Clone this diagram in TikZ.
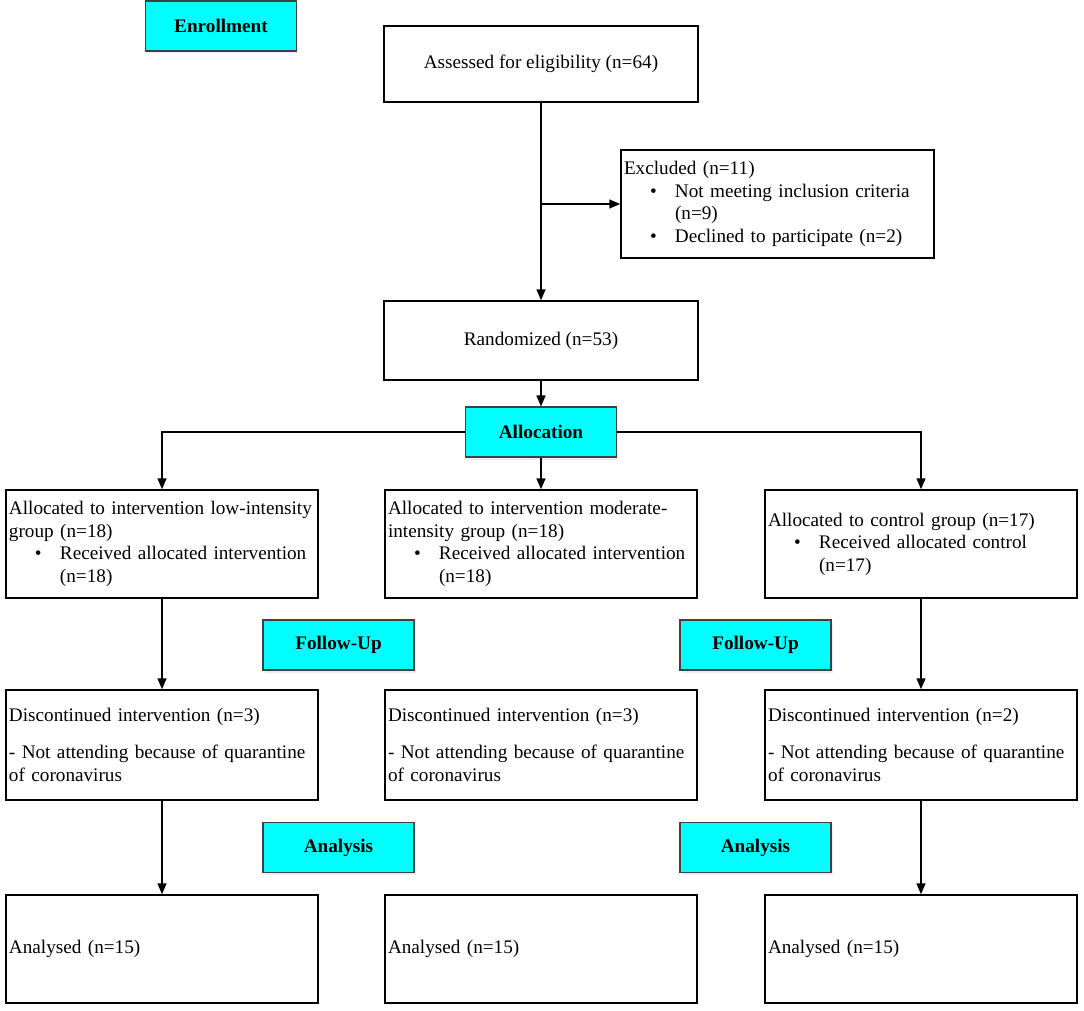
\documentclass[tikz,border=0pt]{standalone}
\usepackage{fontspec}
\setmainfont{Liberation Serif}
\usetikzlibrary{arrows.meta,shadows}
\definecolor{stagecyan}{RGB}{0,255,255}
\newcommand{\bul}[1]{\hspace*{26pt}\makebox[25pt][l]{\textbullet}#1}
\newcommand{\hang}[1]{\hspace*{51pt}#1}
\begin{document}
\begin{tikzpicture}[x=1pt,y=-1pt,
  font=\fontsize{19.2}{22.6}\selectfont,
  box/.style={draw=black,line width=1.5pt,fill=white,inner xsep=3pt,inner ysep=0pt,align=left},
  cbox/.style={box,text width=#1-6pt,minimum width=#1},
  stage/.style={draw=black!75,line width=1.1pt,fill=stagecyan,minimum width=151pt,minimum height=50pt,
    font=\fontsize{19.2}{22}\selectfont\bfseries,
    drop shadow={shadow xshift=1.5pt,shadow yshift=-2.5pt,opacity=0.2,fill=blue!40}},
  arr/.style={line width=1.5pt,-{Triangle[length=11pt,width=9pt]}}]
\useasboundingbox (0,0) rectangle (1084,1011);

% stage labels
\node[stage] (enroll) at (221,26) {Enrollment};
\node[stage] (alloc) at (541,432) {Allocation};
\node[stage] (fua) at (338.5,645) {Follow-Up};
\node[stage] (fuc) at (755.5,645) {Follow-Up};
\node[stage] (ana) at (338.5,847.5) {Analysis};
\node[stage] (anc) at (755.5,847.5) {Analysis};

% top boxes
\node[box,align=center,minimum width=314pt,minimum height=76pt] (assess) at (541,64) {Assessed for eligibility (n=64)};
\node[cbox=313pt,minimum height=108pt] (excl) at (777.5,204) {Excluded (n=11)\\
\bul{Not meeting inclusion criteria}\\
\hang{(n=9)}\\
\bul{Declined to participate (n=2)}};
\node[box,align=center,minimum width=314pt,minimum height=79pt] (rand) at (541,340.5) {Randomized (n=53)};

% row 1
\node[cbox=312pt,minimum height=108pt] (r1a) at (162,544) {\mbox{Allocated to intervention low-intensity}\\
group (n=18)\\
\bul{Received allocated intervention}\\
\hang{(n=18)}};
\node[cbox=312pt,minimum height=108pt] (r1b) at (541,544) {\mbox{Allocated to intervention moderate-}\\
intensity group (n=18)\\
\bul{Received allocated intervention}\\
\hang{(n=18)}};
\node[cbox=312pt,minimum height=108pt] (r1c) at (921,544) {Allocated to control group (n=17)\\
\bul{Received allocated control}\\
\hang{(n=17)}};

% row 2
\node[cbox=312pt,minimum height=110pt] (r2a) at (162,745) {Discontinued intervention (n=3)\\[14pt]
\mbox{- Not attending because of quarantine}\\
of coronavirus};
\node[cbox=312pt,minimum height=110pt] (r2b) at (541,745) {Discontinued intervention (n=3)\\[14pt]
\mbox{- Not attending because of quarantine}\\
of coronavirus};
\node[cbox=312pt,minimum height=110pt] (r2c) at (921,745) {Discontinued intervention (n=2)\\[14pt]
\mbox{- Not attending because of quarantine}\\
of coronavirus};

% row 3
\node[cbox=312pt,minimum height=108pt] (r3a) at (162,949) {Analysed (n=15)};
\node[cbox=312pt,minimum height=108pt] (r3b) at (541,949) {Analysed (n=15)};
\node[cbox=312pt,minimum height=108pt] (r3c) at (921,949) {Analysed (n=15)};

% connectors
\draw[arr] (assess.south) -- (rand.north);
\coordinate (split) at (assess.south |- excl.west);
\draw[arr] (split) -- (excl.west);
\draw[arr] (rand.south) -- (alloc.north);
\draw[arr] (alloc.west) -| (r1a.north);
\draw[arr] (alloc.east) -| (r1c.north);
\draw[arr] (alloc.south) -- (r1b.north);
\draw[arr] (r1a.south) -- (r2a.north);
\draw[arr] (r1c.south) -- (r2c.north);
\draw[arr] (r2a.south) -- (r3a.north);
\draw[arr] (r2c.south) -- (r3c.north);
\end{tikzpicture}
\end{document}
